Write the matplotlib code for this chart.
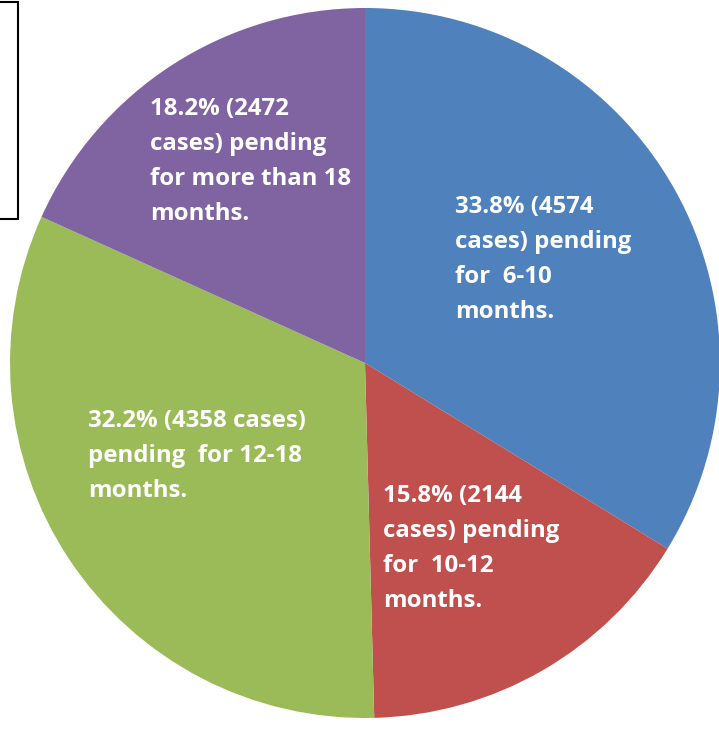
import matplotlib
matplotlib.use("Agg")
import matplotlib.pyplot as plt
from matplotlib.patches import Rectangle

# Data
categories = ["6-10 months", "10-12 months", "12-18 months", "more than 18 months"]
cases = [4574, 2144, 4358, 2472]
percents = ["33.8%", "15.8%", "32.2%", "18.2%"]
colors = ["#4F81BD", "#C0504D", "#9BBB59", "#8064A2"]
labels = [
    ["33.8% (4574", "cases) pending", "for  6-10", "months."],
    ["15.8% (2144", "cases) pending", "for  10-12", "months."],
    ["32.2% (4358 cases)", "pending  for 12-18", "months."],
    ["18.2% (2472", "cases) pending", "for more than 18", "months."],
]

W, H = 719, 730
fig = plt.figure(figsize=(W / 100, H / 100), dpi=100)
ax = fig.add_axes([0, 0, 1, 1])

ax.pie(cases, colors=colors, startangle=90, counterclock=False,
       center=(365, H - 363), radius=355,
       wedgeprops=dict(linewidth=0))
ax.set_xlim(0, W)
ax.set_ylim(0, H)
ax.set_aspect('auto')
ax.axis('off')

# label anchor: (left x, first baseline y) in pixel coords from top
anchors = [(455, 213), (383, 502), (88, 427), (150, 115)]
line_step = 35
for (x, y0), lines in zip(anchors, labels):
    for i, line in enumerate(lines):
        ax.text(x, H - (y0 + i * line_step), line, color="white",
                fontsize=17.3, fontweight="bold", family=["Open Sans", "DejaVu Sans"],
                ha="left", va="baseline")

# partial legend box at top-left
ax.add_patch(Rectangle((-10, H - 219), 28, 217, fill=False,
                       edgecolor="black", linewidth=1.5, clip_on=False))

fig.savefig("out.png", dpi=100)
